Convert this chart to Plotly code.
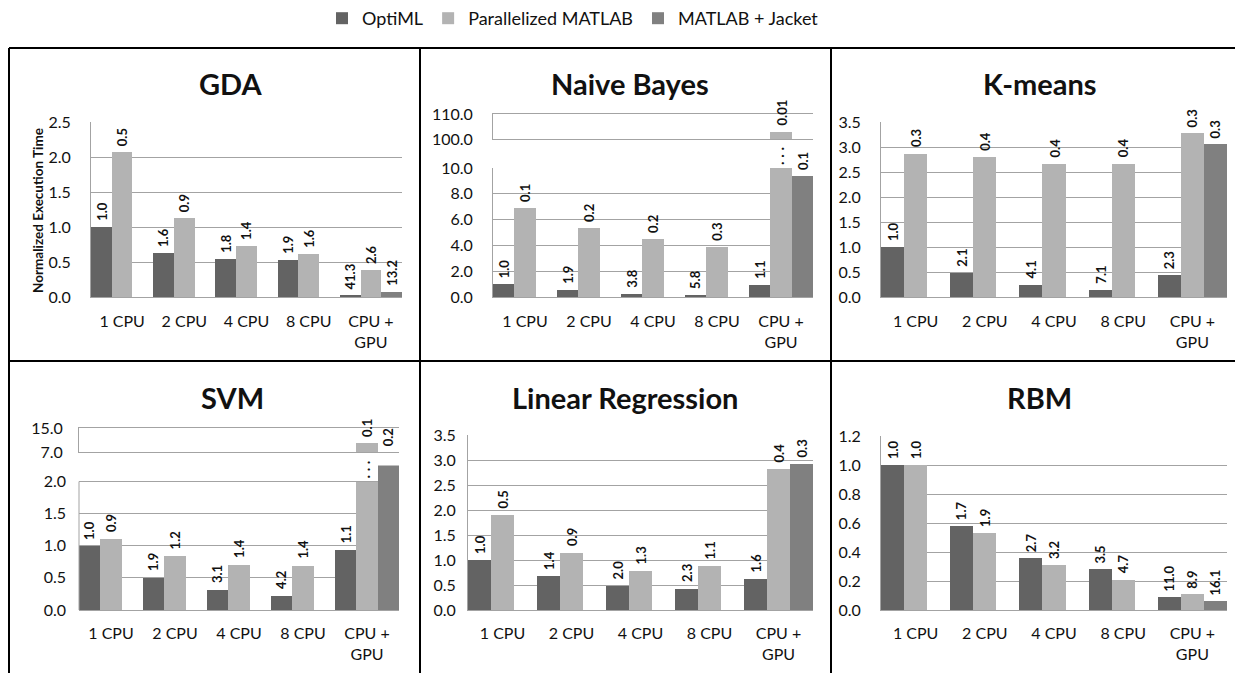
import plotly.graph_objects as go

W, H = 1235, 673

# ---------------- data ----------------
categories = ["1 CPU", "2 CPU", "4 CPU", "8 CPU", "CPU +<br>GPU"]
series_names = ["OptiML", "Parallelized MATLAB", "MATLAB + Jacket"]
series_colors = ["#636363", "#b3b3b3", "#808080"]

# Normalized execution time (bar heights)
gda_optiml = [1.0, 0.63, 0.55, 0.53, 0.024]
gda_matlab = [2.07, 1.13, 0.73, 0.62, 0.39]
gda_jacket = [None, None, None, None, 0.07]
gda_optiml_lbl = ["1.0", "1.6", "1.8", "1.9", "41.3"]
gda_matlab_lbl = ["0.5", "0.9", "1.4", "1.6", "2.6"]
gda_jacket_lbl = [None, None, None, None, "13.2"]

nb_optiml = [1.0, 0.53, 0.26, 0.17, 0.93]
nb_matlab = [6.9, 5.35, 4.5, 3.9, 103.0]
nb_jacket = [None, None, None, None, 9.4]
nb_optiml_lbl = ["1.0", "1.9", "3.8", "5.8", "1.1"]
nb_matlab_lbl = ["0.1", "0.2", "0.2", "0.3", "0.01"]
nb_jacket_lbl = [None, None, None, None, "0.1"]

km_optiml = [1.0, 0.48, 0.25, 0.15, 0.44]
km_matlab = [2.87, 2.81, 2.66, 2.67, 3.28]
km_jacket = [None, None, None, None, 3.06]
km_optiml_lbl = ["1.0", "2.1", "4.1", "7.1", "2.3"]
km_matlab_lbl = ["0.3", "0.4", "0.4", "0.4", "0.3"]
km_jacket_lbl = [None, None, None, None, "0.3"]

svm_optiml = [1.0, 0.51, 0.32, 0.23, 0.94]
svm_matlab = [1.12, 0.85, 0.71, 0.70, 10.0]
svm_jacket = [None, None, None, None, 5.0]
svm_optiml_lbl = ["1.0", "1.9", "3.1", "4.2", "1.1"]
svm_matlab_lbl = ["0.9", "1.2", "1.4", "1.4", "0.1"]
svm_jacket_lbl = [None, None, None, None, "0.2"]

lr_optiml = [1.0, 0.68, 0.49, 0.43, 0.63]
lr_matlab = [1.9, 1.15, 0.78, 0.88, 2.83]
lr_jacket = [None, None, None, None, 2.92]
lr_optiml_lbl = ["1.0", "1.4", "2.0", "2.3", "1.6"]
lr_matlab_lbl = ["0.5", "0.9", "1.3", "1.1", "0.4"]
lr_jacket_lbl = [None, None, None, None, "0.3"]

rbm_optiml = [1.0, 0.58, 0.36, 0.28, 0.088]
rbm_matlab = [1.0, 0.53, 0.31, 0.21, 0.108]
rbm_jacket = [None, None, None, None, 0.062]
rbm_optiml_lbl = ["1.0", "1.7", "2.7", "3.5", "11.0"]
rbm_matlab_lbl = ["1.0", "1.9", "3.2", "4.7", "8.9"]
rbm_jacket_lbl = [None, None, None, None, "16.1"]

y_title = "Normalized Execution Time"

# ---------------- layout configuration (pixels) ----------------
panels = [
    dict(title="GDA", vals=(gda_optiml, gda_matlab, gda_jacket),
         lbls=(gda_optiml_lbl, gda_matlab_lbl, gda_jacket_lbl),
         xpx=(91, 402), tpos=(230, 83),
         lower=dict(px=(297, 122), rng=(0, 2.5), dtick=0.5), upper=None,
         ystand=16, xstand=10),
    dict(title="Naive Bayes", vals=(nb_optiml, nb_matlab, nb_jacket),
         lbls=(nb_optiml_lbl, nb_matlab_lbl, nb_jacket_lbl),
         xpx=(493, 813), tpos=(630, 83),
         lower=dict(px=(297, 168), rng=(0, 10), dtick=2, brk=10),
         upper=dict(px=(139, 114), rng=(100, 110)),
         ystand=16, xstand=10),
    dict(title="K-means", vals=(km_optiml, km_matlab, km_jacket),
         lbls=(km_optiml_lbl, km_matlab_lbl, km_jacket_lbl),
         xpx=(881, 1227), tpos=(1040, 83),
         lower=dict(px=(297, 122), rng=(0, 3.5), dtick=0.5), upper=None,
         ystand=16, xstand=10),
    dict(title="SVM", vals=(svm_optiml, svm_matlab, svm_jacket),
         lbls=(svm_optiml_lbl, svm_matlab_lbl, svm_jacket_lbl),
         xpx=(79, 399), tpos=(232, 397),
         lower=dict(px=(610, 465.5), rng=(0, 2.25), dtick=0.5, brk=2.0),
         upper=dict(px=(452, 428), rng=(7, 15)),
         ystand=12, xstand=9),
    dict(title="Linear Regression", vals=(lr_optiml, lr_matlab, lr_jacket),
         lbls=(lr_optiml_lbl, lr_matlab_lbl, lr_jacket_lbl),
         xpx=(468, 813), tpos=(625, 397),
         lower=dict(px=(610, 435), rng=(0, 3.5), dtick=0.5), upper=None,
         ystand=8, xstand=9),
    dict(title="RBM", vals=(rbm_optiml, rbm_matlab, rbm_jacket),
         lbls=(rbm_optiml_lbl, rbm_matlab_lbl, rbm_jacket_lbl),
         xpx=(881, 1227), tpos=(1039, 397),
         lower=dict(px=(610, 436), rng=(0, 1.2), dtick=0.2), upper=None,
         ystand=16, xstand=9),
]

FONT = "Lato, 'Open Sans', sans-serif"
GRID = "#a3a3a3"
TEXT = "#111111"


def fx(p):
    return p / W


def fy(p):
    return 1 - p / H


fig = go.Figure()
layout = {}
annotations = []
shapes = []
offsets = [-1 / 3, 0, 1 / 3]

ax_n = 0
first = True
for pan in panels:
    xd = [fx(pan["xpx"][0]), fx(pan["xpx"][1])]
    lo = pan["lower"]
    up = pan["upper"]

    # ---- lower subplot ----
    ax_n += 1
    lo_id = ax_n
    sfx = "" if lo_id == 1 else str(lo_id)
    lo_x, lo_y = "x" + sfx, "y" + sfx
    for k in range(3):
        vals = pan["vals"][k]
        if up is not None:
            vals = [(min(v, lo["brk"]) if (v is not None and v >= up["rng"][0]) else v) for v in vals]
        fig.add_trace(go.Bar(x=categories, y=vals, name=series_names[k],
                             marker=dict(color=series_colors[k], line=dict(width=0)),
                             xaxis=lo_x, yaxis=lo_y, legendgroup=series_names[k],
                             showlegend=first, hoverinfo="skip"))
    first = False
    layout["xaxis" + sfx] = dict(domain=xd, anchor=lo_y, type="category",
                                 showline=True, linecolor=GRID, linewidth=1,
                                 showgrid=False, ticks="", ticklabelstandoff=pan["xstand"],
                                 tickfont=dict(family=FONT, size=16, color=TEXT),
                                 automargin=False, fixedrange=True)
    svm_like = up is not None and lo["rng"][1] > lo["brk"]
    layout["yaxis" + sfx] = dict(domain=[fy(lo["px"][0]), fy(lo["px"][1])], anchor=lo_x,
                                 range=list(lo["rng"]), tick0=0, dtick=lo["dtick"],
                                 tickformat=".1f", showgrid=True, gridcolor=GRID, gridwidth=1,
                                 zeroline=False, showline=not svm_like, linecolor=GRID, linewidth=1,
                                 ticks="", ticklabelstandoff=pan["ystand"],
                                 tickfont=dict(family=FONT, size=16, color=TEXT),
                                 automargin=False, fixedrange=True)
    if svm_like:
        shapes.append(dict(type="line", xref=lo_x + " domain", yref=lo_y,
                           x0=0, x1=0, y0=lo["rng"][0], y1=lo["brk"],
                           line=dict(color=GRID, width=1)))

    # ---- upper subplot (broken axis) ----
    up_x = up_y = None
    if up is not None:
        ax_n += 1
        s2 = str(ax_n)
        up_x, up_y = "x" + s2, "y" + s2
        for k in range(3):
            fig.add_trace(go.Bar(x=categories, y=pan["vals"][k], name=series_names[k],
                                 marker=dict(color=series_colors[k], line=dict(width=0)),
                                 xaxis=up_x, yaxis=up_y, legendgroup=series_names[k],
                                 showlegend=False, hoverinfo="skip"))
        layout["xaxis" + s2] = dict(domain=xd, anchor=up_y, type="category",
                                    showline=True, mirror=True, linecolor=GRID, linewidth=1,
                                    showgrid=False, showticklabels=False, ticks="",
                                    automargin=False, fixedrange=True)
        layout["yaxis" + s2] = dict(domain=[fy(up["px"][0]), fy(up["px"][1])], anchor=up_x,
                                    range=list(up["rng"]), tickvals=list(up["rng"]),
                                    tickformat=".1f", showgrid=False, zeroline=False,
                                    showline=True, linecolor=GRID, linewidth=1,
                                    ticks="", ticklabelstandoff=pan["ystand"],
                                    tickfont=dict(family=FONT, size=16, color=TEXT),
                                    automargin=False, fixedrange=True)

    # ---- data labels ----
    for k in range(3):
        for i, (v, t) in enumerate(zip(pan["vals"][k], pan["lbls"][k])):
            if v is None or t is None:
                continue
            if up is not None and v > lo["rng"][1]:
                xr, yr, yv = up_x, up_y, max(v, up["rng"][0])
            else:
                xr, yr, yv = lo_x, lo_y, v
            annotations.append(dict(x=i + offsets[k], y=yv, xref=xr, yref=yr,
                                    text=t, textangle=-90, showarrow=False,
                                    xanchor="center", yanchor="bottom", yshift=4,
                                    font=dict(family=FONT, size=13, color=TEXT, weight="bold")))
            # break marker on bars that continue into the upper segment
            if up is not None and v >= up["rng"][0]:
                annotations.append(dict(x=i + offsets[k], y=lo["brk"], xref=lo_x, yref=lo_y,
                                        text=". . .", textangle=-90, showarrow=False,
                                        xanchor="center", yanchor="bottom", yshift=1, xshift=-3,
                                        font=dict(family=FONT, size=15, color=TEXT, weight="bold")))

    # ---- panel title ----
    annotations.append(dict(x=fx(pan["tpos"][0]), y=fy(pan["tpos"][1]), xref="paper", yref="paper",
                            text=pan["title"], showarrow=False, xanchor="center", yanchor="middle",
                            font=dict(family=FONT, size=29, color=TEXT, weight="bold")))

# y-axis title (only on first panel)
annotations.append(dict(x=fx(38), y=fy(211), xref="paper", yref="paper", text=y_title,
                        textangle=-90, showarrow=False, xanchor="center", yanchor="middle",
                        font=dict(family=FONT, size=13.5, color=TEXT, weight="bold")))

# panel frame
FR = dict(color="#000000", width=2)
for (x0, y0, x1, y1) in [(9, 48, W, 48), (9, 48, 9, H), (420, 48, 420, H),
                         (831, 48, 831, H), (9, 361, W, 361)]:
    shapes.append(dict(type="line", xref="paper", yref="paper",
                       x0=fx(x0), y0=fy(y0), x1=fx(x1), y1=fy(y1), line=FR))

fig.update_layout(
    width=W, height=H, autosize=False,
    margin=dict(l=0, r=0, t=0, b=0, autoexpand=False),
    paper_bgcolor="white", plot_bgcolor="white",
    barmode="group", bargap=0, bargroupgap=0,
    showlegend=True,
    legend=dict(orientation="h", x=fx(573), xanchor="center", y=1, yanchor="top",
                font=dict(family=FONT, size=18, color=TEXT), bgcolor="rgba(0,0,0,0)",
                traceorder="normal", itemclick=False, itemdoubleclick=False),
    annotations=annotations, shapes=shapes,
    **layout,
)

fig.write_html("out.html", config={"responsive": False, "displayModeBar": False},
               post_script="document.body.style.margin='0px';")
